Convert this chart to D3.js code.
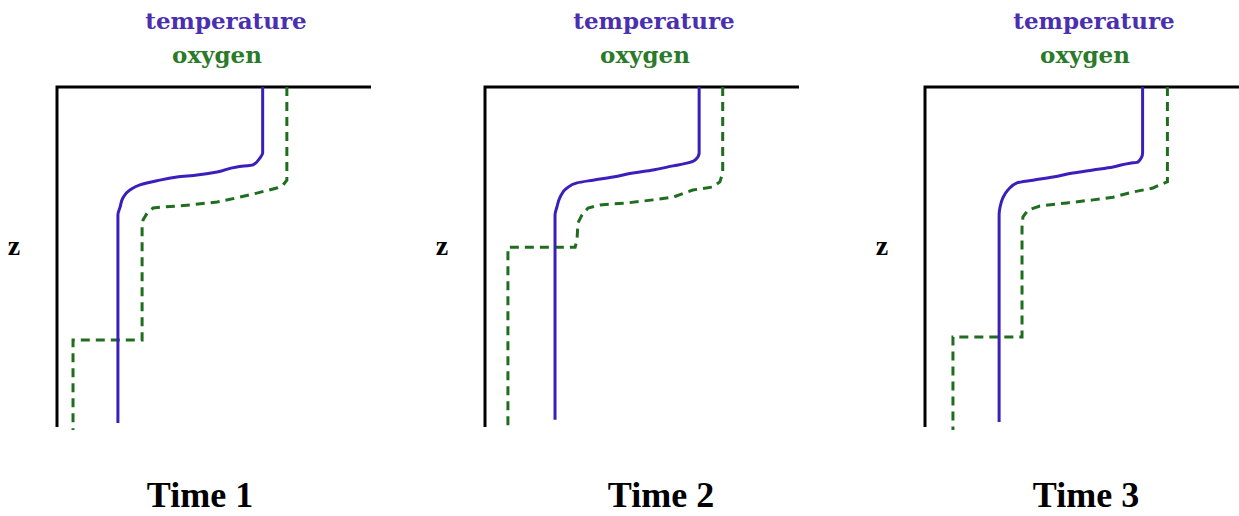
<!DOCTYPE html>
<html>
<head>
<meta charset="utf-8">
<script src="https://cdn.jsdelivr.net/npm/d3@7"></script>
<style>
  html, body { margin: 0; padding: 0; background: #fff; }
  svg { display: block; }
</style>
</head>
<body>
<svg id="chart" width="1239" height="516"></svg>
<script>
// ---------------- DATA ----------------
const panelTitles = ["Time 1", "Time 2", "Time 3"];
const seriesNames = ["temperature", "oxygen"];
const depthLabel = "z";

// [value, depth] pairs (schematic units: value 0-100, depth 0-100)
const tempTime1 = [[65.5,0],[65.5,19.4],[64.6,20.9],[62.4,22.9],[57.3,23.5],[51,25],[44.6,25.9],[38.2,26.5],[31.8,27.6],[26.4,28.8],[23.2,30.3],[21,32.6],[20.1,35.3],[19.4,37.6],[19.4,98.8]];
const oxyTime1  = [[73.2,0],[73.2,27.4],[72,28.8],[70,29.7],[63.7,31.2],[57.3,32.6],[51,33.8],[42.4,34.7],[33.8,35.3],[30.6,35.6],[28.7,37.1],[27.4,39.1],[27.1,41.2],[27.1,74.4],[5.1,74.4],[5.1,100.9]];

const tempTime2 = [[68.2,0],[68.2,19.4],[66.9,21.5],[64.3,22.4],[59.9,23.2],[53.5,24.4],[47.1,25.3],[40.8,26.5],[34.4,27.4],[29.3,28.2],[26.1,29.7],[23.9,32.4],[22.9,35.3],[22.3,37.6],[22.3,97.9]];
const oxyTime2  = [[75.7,0],[75.7,25.3],[74.8,27.9],[72.6,29.4],[66.2,30.3],[59.9,32.4],[53.5,33.2],[45.2,34.1],[36.6,34.7],[32.8,35.6],[30.9,37.6],[29.6,40],[29.3,45],[28.7,47.1],[7.3,47.1],[7.3,100.9]];

const tempTime3 = [[69.3,0],[69.3,19.4],[67.8,22.1],[65.3,22.4],[59.9,23.5],[53.5,24.4],[47.1,25.3],[40.8,26.5],[34.4,27.4],[29.3,28.2],[26.4,30.3],[24.8,32.6],[23.9,35.3],[23.6,37.6],[23.6,98.5]];
const oxyTime3  = [[77.2,0],[77.2,27.9],[74.8,28.8],[72.6,29.7],[66.2,30.9],[59.9,32.4],[53.5,33.2],[45.2,34.1],[36.6,35],[32.8,36.2],[31.2,38.2],[30.9,41.2],[30.9,73.5],[8.9,73.5],[8.9,100.9]];

const temperatureSeries = [tempTime1, tempTime2, tempTime3];
const oxygenSeries = [oxyTime1, oxyTime2, oxyTime3];

// ---------------- LAYOUT ----------------
const panelLeft = [57, 485, 925];
const plotWidth = 314;
const plotTop = 87;
const plotBottom = 427;
const titleOffset = [143, 176, 161];

const tempColor = "#3b1fbd";
const tempTextColor = "#4a2fb0";
const oxyColor = "#1f6e1f";
const oxyTextColor = "#2a7a2a";

const svg = d3.select("#chart");
const y = d3.scaleLinear().domain([0, 100]).range([plotTop, plotBottom]);

panelTitles.forEach((title, i) => {
  const left = panelLeft[i];
  const x = d3.scaleLinear().domain([0, 100]).range([left, left + plotWidth]);
  const g = svg.append("g");

  const oxyLine = d3.line().x(d => x(d[0])).y(d => y(d[1]));
  const tempLine = d3.line().x(d => x(d[0])).y(d => y(d[1])).curve(d3.curveMonotoneY);

  // axes (frame: top and left)
  g.append("path")
    .attr("d", `M${x(0)},${y(100)}V${y(0)}H${x(100)}`)
    .attr("fill", "none").attr("stroke", "#000").attr("stroke-width", 3);

  // oxygen (dashed)
  g.append("path")
    .datum(oxygenSeries[i])
    .attr("d", oxyLine)
    .attr("fill", "none")
    .attr("stroke", oxyColor)
    .attr("stroke-width", 3)
    .attr("stroke-dasharray", "9,6");

  // temperature (solid)
  g.append("path")
    .datum(temperatureSeries[i])
    .attr("d", tempLine)
    .attr("fill", "none")
    .attr("stroke", tempColor)
    .attr("stroke-width", 3)
    .attr("stroke-linejoin", "round");

  // legend texts
  g.append("text")
    .attr("x", left + 169).attr("y", 29)
    .attr("text-anchor", "middle")
    .attr("font-family", "DejaVu Serif")
    .attr("font-weight", "bold")
    .attr("font-size", 23)
    .attr("fill", tempTextColor)
    .text(seriesNames[0]);
  g.append("text")
    .attr("x", left + 160).attr("y", 63)
    .attr("text-anchor", "middle")
    .attr("font-family", "DejaVu Serif")
    .attr("font-weight", "bold")
    .attr("font-size", 23)
    .attr("fill", oxyTextColor)
    .text(seriesNames[1]);

  // z label
  g.append("text")
    .attr("x", left - 43).attr("y", 255)
    .attr("text-anchor", "middle")
    .attr("font-family", "Liberation Serif")
    .attr("font-weight", "bold")
    .attr("font-size", 28)
    .attr("fill", "#000")
    .text(depthLabel);

  // panel title
  g.append("text")
    .attr("x", left + titleOffset[i]).attr("y", 507)
    .attr("text-anchor", "middle")
    .attr("font-family", "Liberation Serif")
    .attr("font-weight", "bold")
    .attr("font-size", 36)
    .attr("fill", "#000")
    .text(title);
});
</script>
</body>
</html>
